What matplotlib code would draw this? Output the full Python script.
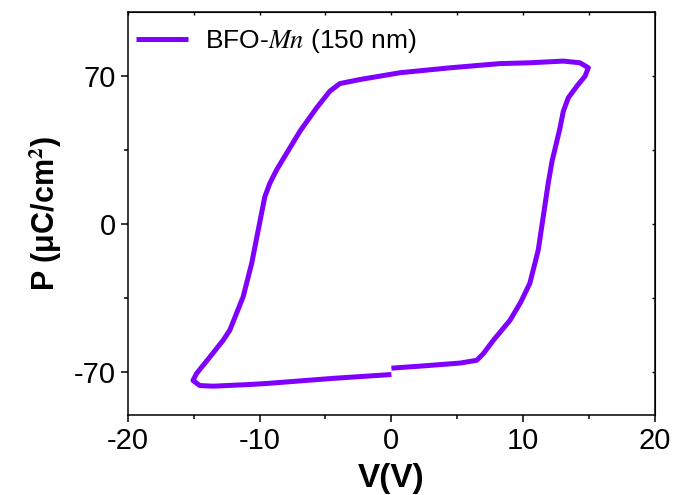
import numpy as np
import matplotlib.pyplot as plt
from matplotlib.ticker import MultipleLocator

plt.rcParams['font.family'] = ['Liberation Sans', 'DejaVu Sans']
plt.rcParams['mathtext.fontset'] = 'stix'
plt.rcParams['axes.unicode_minus'] = False

# P-V loop, starting just after the gap at V=0
v = [0.0, 2.5, 5.2, 6.47, 6.97, 7.73, 9.0, 9.8, 10.5, 11.14, 11.52, 11.9,
     12.2, 12.49, 12.79, 13.04, 13.42, 14.06, 14.69, 14.94, 14.3, 13.04,
     10.51, 8.2, 4.4, 0.65, -2.39, -3.91, -4.67, -5.68, -6.94, -8.71, -9.22,
     -9.6, -9.85, -10.1, -10.6, -11.25, -12.26, -12.77, -13.78, -14.79,
     -15.05, -14.54, -13.53, -10.74, -9.4, -4.4, 0.0]
p = [-68.0, -66.9, -65.6, -64.3, -61.2, -54.9, -45.4, -37.0, -28.0, -12.3,
     3.5, 19.4, 30.0, 37.4, 45.3, 53.1, 59.5, 64.9, 69.7, 73.65, 76.0, 76.8,
     76.0, 75.6, 73.6, 71.3, 68.1, 66.2, 62.6, 54.7, 43.7, 25.5, 19.2,
     12.9, 5.1, -2.8, -18.6, -34.4, -50.1, -54.9, -62.8, -70.6,
     -73.8, -76.2, -76.5, -75.7, -75.2, -72.8, -71.0]
label = 'BFO-$Mn$ (150 nm)'

fig = plt.figure(figsize=(6.76, 4.95), dpi=100)
ax = fig.add_axes([0.189, 0.162, 0.780, 0.814])
ax.plot(v, p, color='#8000FF', lw=3.6, label=label,
        solid_joinstyle='round', solid_capstyle='butt')

ax.set_xlim(-20, 20)
ax.set_ylim(-90, 100)
ax.set_xticks([-20, -10, 0, 10, 20])
ax.set_yticks([-70, 0, 70])
ax.xaxis.set_minor_locator(MultipleLocator(5))
ax.yaxis.set_minor_locator(MultipleLocator(35))
ax.tick_params(which='major', direction='out', length=5, width=1.1, labelsize=21)
ax.tick_params(which='minor', direction='out', length=3, width=1.1)
for s in ax.spines.values():
    s.set_linewidth(1.1)

top = ax.secondary_xaxis('top')
top.set_xticks(np.arange(-20, 21, 5))
top.tick_params(direction='in', length=2.5, width=1.0, labeltop=False)
right = ax.secondary_yaxis('right')
right.set_yticks([-70, -35, 0, 35, 70])
right.tick_params(direction='in', length=2.5, width=1.0, labelright=False)

ax.set_xlabel('V(V)', fontsize=24, fontweight='bold', labelpad=6)
ax.set_ylabel('P (μC/cm$^\\mathbf{2}$)', fontsize=22, fontweight='bold', labelpad=7)

ax.legend(loc='upper left', bbox_to_anchor=(0, 0.981), frameon=False,
          fontsize=19, handlelength=2.0, handletextpad=0.64,
          borderaxespad=0.1, borderpad=0.2)

fig.savefig('out.png', dpi=100)
